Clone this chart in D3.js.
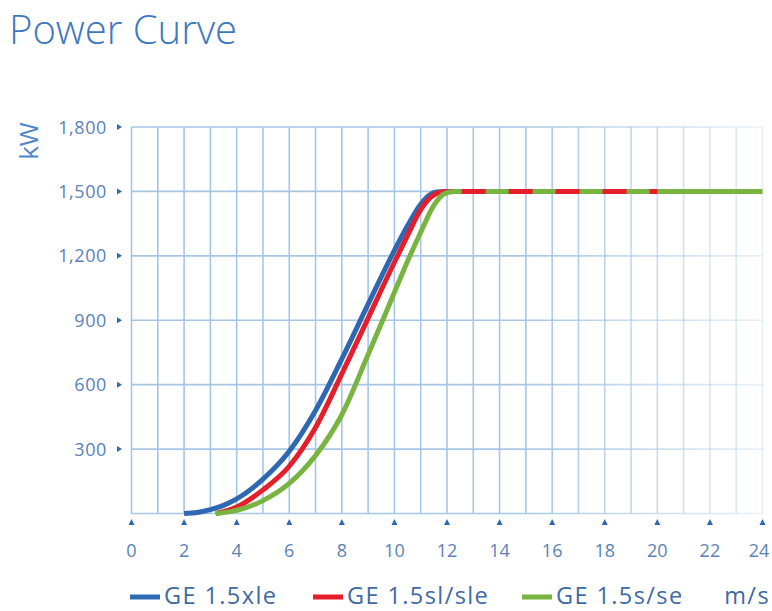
<!DOCTYPE html>
<html>
<head>
<meta charset="utf-8">
<script src="https://cdn.jsdelivr.net/npm/d3@7"></script>
<style>
  html, body { margin: 0; padding: 0; background: #ffffff; }
  svg { display: block; }
  text { font-family: "Open Sans", "DejaVu Sans", sans-serif; }
</style>
</head>
<body>
<svg id="chart" width="772" height="611"></svg>
<script>
// ---- data ----
const title = "Power Curve";
const yUnit = "kW";
const xUnit = "m/s";
const xTicks = [0, 2, 4, 6, 8, 10, 12, 14, 16, 18, 20, 22, 24];
const yTicks = [300, 600, 900, 1200, 1500, 1800];
const yTickLabels = ["300", "600", "900", "1,200", "1,500", "1,800"];
const seriesNames = ["GE 1.5xle", "GE 1.5sl/sle", "GE 1.5s/se"];

const xleWind  = [2, 2.5, 3, 3.5, 4, 5, 6, 7, 8, 9, 10, 10.5, 11, 11.3, 11.6, 12, 20];
const xlePower = [0, 5, 18, 38, 68, 160, 290, 480, 720, 975, 1225, 1340, 1440, 1480, 1497, 1500, 1500];

const slWind  = [3.2, 3.5, 4, 5, 6, 7, 8, 9, 10, 10.5, 11, 11.4, 11.8, 12.1, 20];
const slPower = [0, 8, 30, 110, 220, 400, 650, 910, 1170, 1295, 1415, 1475, 1497, 1500, 1500];

const sWind  = [3.2, 3.5, 4, 5, 6, 7, 8, 9, 10, 10.5, 11, 11.5, 11.9, 12.3, 24];
const sPower = [0, 4, 15, 60, 140, 270, 460, 740, 1030, 1175, 1310, 1435, 1490, 1500, 1500];

// ---- styles ----
const colors = ["#2f68b2", "#e41f2b", "#79b441"];
const gridColor = "#a6c6e6";
const textColor = "#5b82b8";
const titleColor = "#3c78c2";

const svg = d3.select("#chart");
const x = d3.scaleLinear().domain([0, 24]).range([131.5, 762.5]);
const y = d3.scaleLinear().domain([0, 1800]).range([513.5, 127]);

// gradient for fading grid lines to the right
const defs = svg.append("defs");
const grad = defs.append("linearGradient").attr("id", "fadeH")
  .attr("gradientUnits", "userSpaceOnUse")
  .attr("x1", x(0)).attr("x2", x(24)).attr("y1", 0).attr("y2", 0);
grad.append("stop").attr("offset", "0.6").attr("stop-color", gridColor).attr("stop-opacity", 1);
grad.append("stop").attr("offset", "1").attr("stop-color", gridColor).attr("stop-opacity", 0.25);

// title
svg.append("text").attr("x", 9).attr("y", 44)
  .attr("fill", titleColor).attr("font-size", 40).attr("font-weight", 300)
  .text(title);

// grid: vertical lines every 1 m/s
const vLines = d3.range(0, 25);
svg.append("g").selectAll("line").data(vLines).join("line")
  .attr("x1", d => x(d)).attr("x2", d => x(d))
  .attr("y1", y(1800)).attr("y2", y(0))
  .attr("stroke", gridColor).attr("stroke-width", 1.6)
  .attr("stroke-opacity", d => d <= 15 ? 1 : 1 - (d - 15) / 9 * 0.7);

// grid: horizontal lines
svg.append("g").selectAll("line").data([0].concat(yTicks)).join("line")
  .attr("x1", x(0)).attr("x2", x(24))
  .attr("y1", d => y(d)).attr("y2", d => y(d))
  .attr("stroke", "url(#fadeH)").attr("stroke-width", 1.6);

// y tick labels and triangle markers
const yg = svg.append("g");
yg.selectAll("text").data(yTicks).join("text")
  .attr("x", 107).attr("y", d => y(d) + 6.5)
  .attr("text-anchor", "end").attr("font-size", 18).attr("letter-spacing", 0.6)
  .attr("fill", textColor)
  .text((d, i) => yTickLabels[i]);
yg.selectAll("path").data(yTicks).join("path")
  .attr("d", d => `M${117},${y(d) - 3} L${122},${y(d)} L${117},${y(d) + 3} Z`)
  .attr("fill", "#2f68b2");

// x tick labels and triangle markers
const xg = svg.append("g");
xg.selectAll("path").data(xTicks).join("path")
  .attr("d", d => `M${x(d) - 3},${525} L${x(d)},${519} L${x(d) + 3},${525} Z`)
  .attr("fill", "#2f68b2");
xg.selectAll("text").data(xTicks).join("text")
  .attr("x", d => Math.min(x(d), 759)).attr("y", 557)
  .attr("text-anchor", "middle").attr("font-size", 18)
  .attr("fill", textColor)
  .text(d => d);

// y unit
svg.append("text")
  .attr("transform", `translate(${38},${141}) rotate(-90)`)
  .attr("text-anchor", "middle").attr("font-size", 26).attr("fill", "#4f86cc")
  .text(yUnit);

// curves
const line = d3.line().x(d => x(d[0])).y(d => y(d[1])).curve(d3.curveMonotoneX);
const series = [
  d3.zip(xleWind, xlePower),
  d3.zip(slWind, slPower),
  d3.zip(sWind, sPower)
];
const cg = svg.append("g");
series.forEach((s, i) => {
  cg.append("path").datum(s).attr("d", line)
    .attr("fill", "none").attr("stroke", colors[i])
    .attr("stroke-width", 5).attr("stroke-linecap", "butt");
});
// red flat portion shows through as dashes on top of green
const slFlat = series[1].filter(d => d[0] >= 12.1);
cg.append("path").datum(slFlat).attr("d", line)
  .attr("fill", "none").attr("stroke", colors[1]).attr("stroke-width", 5)
  .attr("stroke-dasharray", "24 23").attr("stroke-dashoffset", 35);

// legend
const legendX = [130, 313, 522];
const lg = svg.append("g");
seriesNames.forEach((name, i) => {
  lg.append("line")
    .attr("x1", legendX[i]).attr("x2", legendX[i] + 30)
    .attr("y1", 597).attr("y2", 597)
    .attr("stroke", colors[i]).attr("stroke-width", 5);
  lg.append("text")
    .attr("x", legendX[i] + 34).attr("y", 604)
    .attr("font-size", 23.5).attr("letter-spacing", 1.4).attr("fill", "#3e6aa6")
    .text(name);
});
lg.append("text").attr("x", 770).attr("y", 604).attr("text-anchor", "end")
  .attr("font-size", 23.5).attr("letter-spacing", 1.4).attr("fill", "#3e6aa6").text(xUnit);
</script>
</body>
</html>
